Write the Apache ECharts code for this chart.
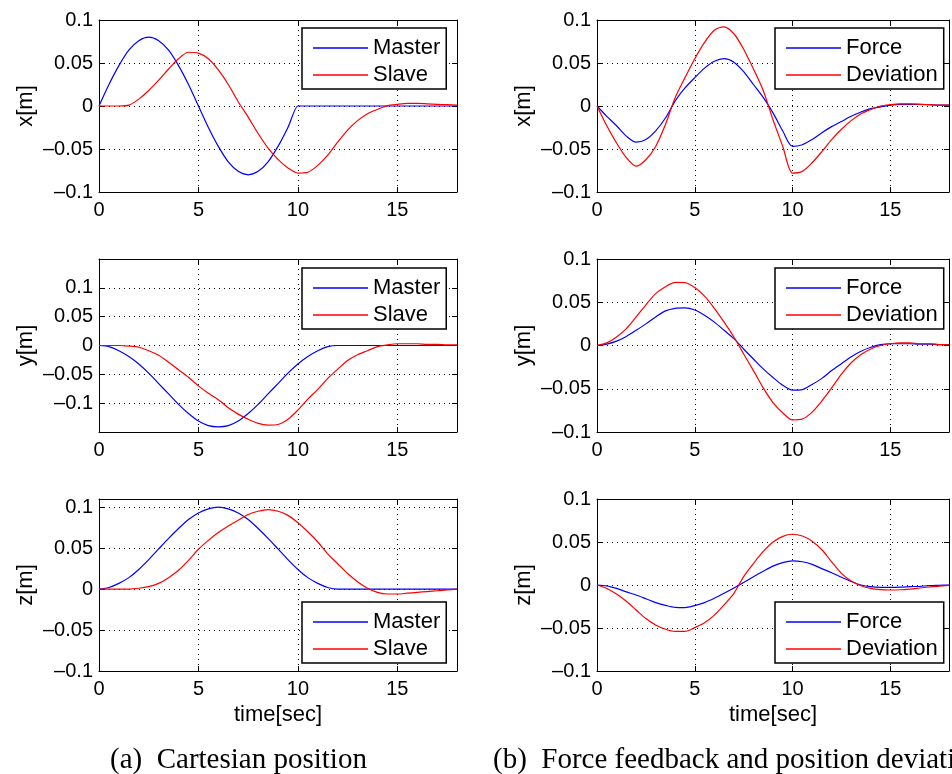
<!DOCTYPE html>
<html><head><meta charset="utf-8">
<script src="https://cdn.jsdelivr.net/npm/echarts@6/dist/echarts.min.js"></script>
<style>html,body{margin:0;padding:0;background:#fff}#c{width:952px;height:774px}</style>
</head><body><div id="c"></div>
<script>
// ---- data ----
const time = [0,0.5,1,1.5,2,2.5,3,3.5,4,4.5,5,5.5,6,6.5,7,7.5,8,8.5,9,9.5,10,10.5,11,11.5,12,12.5,13,13.5,14,14.5,15,15.5,16,16.5,17,17.5,18];
const timeMasterX = [0,0.5,1,1.5,2,2.5,3,3.5,4,4.5,5,5.5,6,6.5,7,7.5,8,8.5,9,9.5,10,10.05,18];
const masterX = [0,0.025,0.047,0.065,0.076,0.080,0.076,0.065,0.047,0.025,0,-0.025,-0.047,-0.065,-0.076,-0.080,-0.076,-0.065,-0.047,-0.025,0,0,0];
const slaveX = [0,0,0,0.001,0.008,0.018,0.030,0.043,0.055,0.0625,0.0615,0.055,0.042,0.025,0.005,-0.013,-0.032,-0.049,-0.062,-0.072,-0.078,-0.077,-0.069,-0.057,-0.042,-0.028,-0.017,-0.009,-0.004,0.0005,0.002,0.003,0.003,0.0025,0.002,0.0015,0.001];
const forceX = [0,-0.012,-0.023,-0.035,-0.042,-0.039,-0.029,-0.014,0.006,0.021,0.033,0.044,0.052,0.055,0.051,0.040,0.025,0.010,-0.008,-0.029,-0.047,-0.045,-0.039,-0.031,-0.024,-0.018,-0.012,-0.007,-0.003,-0.001,0.001,0.002,0.002,0.002,0.0015,0.001,0.001];
const deviationX = [0,-0.023,-0.043,-0.060,-0.070,-0.0625,-0.047,-0.0215,0.010,0.033,0.055,0.074,0.088,0.092,0.084,0.066,0.043,0.018,-0.016,-0.047,-0.078,-0.076,-0.066,-0.053,-0.039,-0.027,-0.017,-0.009,-0.004,0,0.0016,0.0025,0.0025,0.002,0.0015,0.001,0.001];
const masterY = [0,-0.002,-0.009,-0.019,-0.032,-0.048,-0.066,-0.084,-0.102,-0.118,-0.131,-0.139,-0.141,-0.139,-0.131,-0.118,-0.102,-0.084,-0.066,-0.048,-0.032,-0.019,-0.009,-0.002,0,0,0,0,0,0,0,0,0,0,0,0,0];
const slaveY = [0,0,0,-0.001,-0.003,-0.009,-0.017,-0.029,-0.042,-0.055,-0.070,-0.083,-0.094,-0.108,-0.119,-0.128,-0.135,-0.138,-0.137,-0.128,-0.112,-0.093,-0.076,-0.057,-0.041,-0.026,-0.016,-0.009,-0.002,0.001,0.003,0.003,0.003,0.002,0.002,0.001,0.001];
const forceY = [0,0.0016,0.005,0.0105,0.0176,0.025,0.033,0.040,0.043,0.0435,0.041,0.035,0.027,0.0176,0.008,-0.004,-0.0156,-0.027,-0.037,-0.046,-0.0516,-0.051,-0.045,-0.038,-0.029,-0.021,-0.013,-0.0066,-0.002,0.001,0.002,0.002,0.002,0.0015,0.0015,0.001,0.001];
const deviationY = [0,0.003,0.0098,0.0195,0.033,0.047,0.060,0.068,0.073,0.0728,0.067,0.057,0.043,0.027,0.0098,-0.0098,-0.029,-0.049,-0.066,-0.078,-0.086,-0.085,-0.077,-0.064,-0.049,-0.033,-0.020,-0.0105,-0.004,0,0.002,0.003,0.003,0.002,0.002,0.001,0.001];
const masterZ = [0,0.002,0.007,0.014,0.024,0.036,0.049,0.062,0.074,0.085,0.093,0.098,0.100,0.098,0.093,0.085,0.074,0.062,0.049,0.036,0.024,0.014,0.007,0.002,0,0,0,0,0,0,0,0,0,0,0,0,0];
const slaveZ = [0,0,0,0,0.001,0.003,0.007,0.014,0.023,0.035,0.0486,0.0595,0.069,0.077,0.084,0.091,0.095,0.097,0.095,0.090,0.081,0.070,0.0575,0.043,0.031,0.019,0.009,0.001,-0.004,-0.006,-0.006,-0.005,-0.004,-0.003,-0.002,-0.001,0];
const forceZ = [0,-0.001,-0.004,-0.008,-0.0116,-0.016,-0.0205,-0.0236,-0.026,-0.0262,-0.024,-0.0205,-0.0155,-0.0097,-0.0035,0.003,0.0097,0.016,0.022,0.026,0.028,0.027,0.024,0.019,0.0143,0.009,0.004,0,-0.002,-0.0027,-0.0027,-0.0025,-0.002,-0.0015,-0.0008,-0.0004,0];
const deviationZ = [0,-0.004,-0.0105,-0.019,-0.029,-0.039,-0.0465,-0.0515,-0.054,-0.054,-0.0496,-0.044,-0.035,-0.023,-0.0097,0.0097,0.025,0.039,0.050,0.0566,0.059,0.057,0.051,0.041,0.027,0.0136,0.0047,-0.0008,-0.004,-0.0054,-0.0058,-0.0055,-0.0047,-0.0035,-0.0023,-0.0012,-0.0004];

const yNames = ['x[m]','x[m]','y[m]','y[m]','z[m]','z[m]'];
const yMins = [-0.1,-0.1,-0.15,-0.1,-0.1,-0.1];
const yMaxs = [0.1,0.1,0.15,0.1,0.11,0.1];
const xTicks = [0,5,10,15];
const captions = ['(a)\u2002Cartesian position','(b)\u2002Force feedback and position deviation'];

// ---- layout ----
const grids = [
  {left:99, top:20, width:358, height:172},
  {left:597, top:20, width:358, height:172},
  {left:99, top:259, width:358, height:173},
  {left:597, top:259, width:358, height:173},
  {left:99, top:499, width:358, height:172},
  {left:597, top:499, width:358, height:172}
];
const legendPos = [
  {left:302, top:28},{left:775, top:28},
  {left:302, top:268},{left:775, top:268},
  {left:302, top:602},{left:775, top:602}
];
const FONT = 'Liberation Sans';
const BLUE = '#0000ff', RED = '#ff0000';

function fmtY(v){
  const k = Math.round(v/0.05);
  if (Math.abs(v - k*0.05) > 1e-6 || Math.abs(v) > 0.1 + 1e-9) return '';
  if (k === 0) return '0';
  const s = (Math.abs(k)*0.05).toFixed(2).replace(/0+$/,'');
  return (k < 0 ? '\u2013' : '') + s;
}
function fmtX(v){ return xTicks.indexOf(v) >= 0 ? String(v) : ''; }
function pairs(t, v){ return t.map((x,i)=>[x, v[i]]); }

const plotSeries = [
  [['Master', timeMasterX, masterX, BLUE], ['Slave', time, slaveX, RED]],
  [['Force', time, forceX, BLUE], ['Deviation', time, deviationX, RED]],
  [['Master', time, masterY, BLUE], ['Slave', time, slaveY, RED]],
  [['Force', time, forceY, BLUE], ['Deviation', time, deviationY, RED]],
  [['Master', time, masterZ, BLUE], ['Slave', time, slaveZ, RED]],
  [['Force', time, forceZ, BLUE], ['Deviation', time, deviationZ, RED]]
];

const lineBlack = {show:true, onZero:false, lineStyle:{color:'#000', width:1}};
const xAxis = [], yAxis = [], series = [], legend = [];
for (let i = 0; i < 6; i++) {
  const bottomRow = i >= 4;
  xAxis.push({
    type:'value', gridIndex:i, min:0, max:18, interval:5,
    axisLine:lineBlack,
    axisTick:{show:true, inside:true, length:5, lineStyle:{color:'#000'}},
    axisLabel:{formatter:fmtX, color:'#000', fontFamily:FONT, fontSize:20, margin:8},
    splitLine:{show:true, lineStyle:{color:'#000', type:[1,4], width:1}},
    name: bottomRow ? 'time[sec]' : '', nameLocation:'middle', nameGap:33,
    nameTextStyle:{color:'#000', fontFamily:FONT, fontSize:22}
  });
  yAxis.push({
    type:'value', gridIndex:i, min:yMins[i], max:yMaxs[i], interval:0.05,
    axisLine:lineBlack,
    axisTick:{show:true, inside:true, length:5, lineStyle:{color:'#000'}},
    axisLabel:{formatter:fmtY, color:'#000', fontFamily:FONT, fontSize:20, margin:6},
    splitLine:{show:true, lineStyle:{color:'#000', type:[1,4], width:1}},
    name:yNames[i], nameLocation:'middle', nameGap:62, nameRotate:90,
    nameTextStyle:{color:'#000', fontFamily:FONT, fontSize:22}
  });
  plotSeries[i].forEach(s => {
    series.push({
      type:'line', name:s[0], xAxisIndex:i, yAxisIndex:i,
      data:pairs(s[1], s[2]), symbol:'none', showSymbol:false, smooth:0.28,
      lineStyle:{color:s[3], width:1.2}, itemStyle:{color:s[3]},
      animation:false, z:3
    });
  });
  legend.push({
    show:true, orient:'vertical', left:legendPos[i].left, top:legendPos[i].top,
    data:[plotSeries[i][0][0], plotSeries[i][1][0]],
    icon:'rect', itemWidth:55, itemHeight:1.3, itemGap:5,
    padding:[9,6,3,11], backgroundColor:'#fff', borderColor:'#000', borderWidth:1.5, borderRadius:0,
    textStyle:{color:'#000', fontFamily:FONT, fontSize:22, lineHeight:22},
    selectedMode:false, z:10
  });
}
for (let i = 0; i < 6; i++) {
  xAxis.push({
    type:'value', gridIndex:i, position:'top', min:0, max:18, interval:5,
    axisLine:lineBlack, axisTick:{show:true, inside:true, length:5, lineStyle:{color:'#000'}},
    axisLabel:{show:false}, splitLine:{show:false}
  });
  yAxis.push({
    type:'value', gridIndex:i, position:'right', min:yMins[i], max:yMaxs[i], interval:0.05,
    axisLine:lineBlack, axisTick:{show:true, inside:true, length:5, lineStyle:{color:'#000'}},
    axisLabel:{show:false}, splitLine:{show:false}
  });
}

const chart = echarts.init(document.getElementById('c'), null, {renderer:'canvas'});
chart.setOption({
  backgroundColor:'#fff',
  animation:false,
  grid: grids.map(g => Object.assign({containLabel:false}, g)),
  xAxis, yAxis, series, legend,
  graphic:[
    {type:'text', x:110, y:760, style:{text:captions[0], font:'29px "Liberation Serif"', fill:'#000', verticalAlign:'middle', align:'left'}},
    {type:'text', x:493, y:760, style:{text:captions[1], font:'29px "Liberation Serif"', fill:'#000', verticalAlign:'middle', align:'left'}}
  ]
});
</script></body></html>
